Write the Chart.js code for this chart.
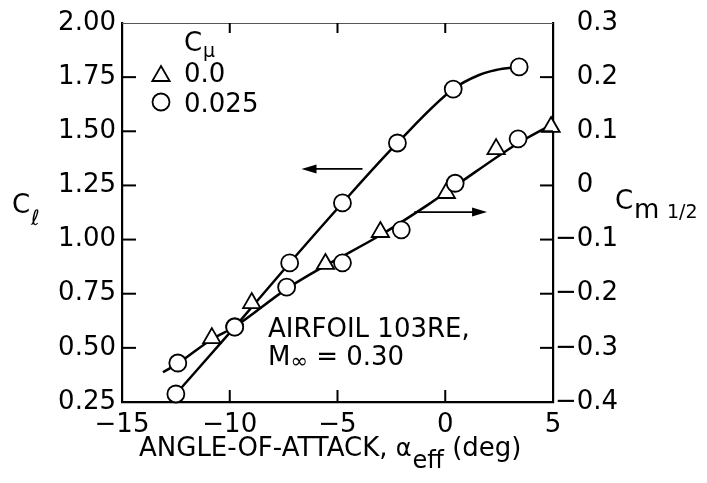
<!DOCTYPE html>
<html>
<head>
<meta charset="utf-8">
<script src="https://cdn.jsdelivr.net/npm/chart.js@4.4.1/dist/chart.umd.min.js"></script>
<style>
html, body { margin: 0; padding: 0; background: #fff; }
#wrap { width: 707px; height: 483px; position: relative; }
</style>
</head>
<body>
<div id="wrap"><canvas id="chart"></canvas></div>
<script>
const FONT = '"DejaVu Sans", "Liberation Sans", sans-serif';

// C_l (left axis)
const clCircAlpha = [-12.5, -9.77, -7.22, -4.77, -2.22, 0.37, 3.43];
const clCircVal = [0.287, 0.596, 0.892, 1.169, 1.446, 1.695, 1.797];
const clTriAlpha = [-8.98];
const clTriVal = [0.707];
const clFairAlpha = [-12.5, -9.77, -7.22, -4.77, -2.22, 0.37, 1.57, 2.36, 3.43];
const clFairVal = [0.287, 0.596, 0.892, 1.169, 1.446, 1.695, 1.76, 1.783, 1.797];

// C_m 1/2 (right axis)
const cmCircAlpha = [-12.41, -9.77, -7.36, -4.77, -2.04, 0.46, 3.38];
const cmCircVal = [-0.328, -0.261, -0.188, -0.143, -0.082, 0.004, 0.086];
const cmTriAlpha = [-10.83, -5.56, -3.01, 0.05, 2.36, 4.91];
const cmTriVal = [-0.282, -0.145, -0.086, -0.014, 0.067, 0.108];
const cmFairAlpha = [-13.1, -12.45, -10.83, -9.77, -7.36, -5.6, -3.06, -0.74, 0.46, 3.38, 4.91];
const cmFairVal = [-0.345, -0.33, -0.284, -0.261, -0.191, -0.149, -0.093, -0.034, -0.001, 0.078, 0.112];

const legendLabels = ['0.0', '0.025'];

const pts = (xs, ys) => xs.map((x, i) => ({ x, y: ys[i] }));

function line(ctx, x1, y1, x2, y2) {
  ctx.beginPath();
  ctx.moveTo(x1, y1);
  ctx.lineTo(x2, y2);
  ctx.stroke();
}

function tri(ctx, cx, cy, r) {
  ctx.beginPath();
  for (let k = 0; k < 3; k++) {
    const a = k * 2 * Math.PI / 3;
    const px = cx + Math.sin(a) * r, py = cy - Math.cos(a) * r;
    k ? ctx.lineTo(px, py) : ctx.moveTo(px, py);
  }
  ctx.closePath();
  ctx.fill();
  ctx.stroke();
}

function arrow(ctx, x1, y, x2) {
  const dir = Math.sign(x2 - x1);
  ctx.lineWidth = 1.8;
  line(ctx, x1, y, x2 - dir * 8, y);
  ctx.beginPath();
  ctx.moveTo(x2, y);
  ctx.lineTo(x2 - dir * 15, y - 4.5);
  ctx.lineTo(x2 - dir * 15, y + 4.5);
  ctx.closePath();
  ctx.fill();
}

const decor = {
  id: 'decor',
  afterDraw(chart) {
    const { ctx, chartArea: a, scales } = chart;
    const { x, y, y2 } = scales;
    ctx.save();
    ctx.strokeStyle = '#000';
    ctx.fillStyle = '#000';

    // faint top frame
    ctx.lineWidth = 1;
    ctx.strokeStyle = '#555';
    line(ctx, a.left, a.top + 0.5, a.right, a.top + 0.5);

    // inward ticks
    ctx.strokeStyle = '#000';
    ctx.lineWidth = 2;
    x.ticks.forEach(t => {
      if (t.value <= x.min || t.value >= x.max) return;
      const px = x.getPixelForValue(t.value);
      line(ctx, px, a.bottom, px, a.bottom - 12);
      line(ctx, px, a.top, px, a.top + 10);
    });
    y.ticks.forEach(t => {
      if (t.value <= y.min || t.value >= y.max) return;
      const py = y.getPixelForValue(t.value);
      line(ctx, a.left, py, a.left + 14, py);
    });
    y2.ticks.forEach(t => {
      if (t.value <= y2.min + 1e-9 || t.value >= y2.max - 1e-9) return;
      const py = y2.getPixelForValue(t.value);
      line(ctx, a.right, py, a.right - 13, py);
    });

    // arrows pointing to the axes
    const ay1 = y.getPixelForValue(1.326);
    arrow(ctx, x.getPixelForValue(-3.84), ay1, x.getPixelForValue(-6.67));
    const ay2 = y.getPixelForValue(1.127);
    arrow(ctx, x.getPixelForValue(-1.44), ay2, x.getPixelForValue(1.94));

    ctx.textBaseline = 'alphabetic';
    ctx.textAlign = 'left';
    const big = '26px ' + FONT, small = '19px ' + FONT;

    // left axis label C_l
    ctx.font = big;
    ctx.fillText('C', 12, 213);
    ctx.font = 'italic 21px ' + FONT;
    ctx.fillText('\u2113', 31, 225);

    // right axis label C_m 1/2
    ctx.font = big;
    ctx.fillText('C', 615, 209);
    ctx.fillText('m', 634, 218);
    ctx.font = small;
    ctx.fillText('1/2', 667, 218);

    // x axis title
    ctx.font = big;
    let cx = 139;
    const t1 = 'ANGLE-OF-ATTACK, ';
    ctx.fillText(t1, cx, 456);
    cx += ctx.measureText(t1).width;
    ctx.font = '24px ' + FONT;
    ctx.fillText('\u03b1', cx, 456);
    cx += ctx.measureText('\u03b1').width + 1;
    ctx.font = '24px ' + FONT;
    ctx.fillText('eff', cx, 468);
    cx += ctx.measureText('eff').width;
    ctx.font = big;
    ctx.fillText(' (deg)', cx, 456);

    // legend
    ctx.font = big;
    ctx.fillText('C', 184, 51);
    ctx.font = small;
    ctx.fillText('\u03bc', 203, 57);
    ctx.lineWidth = 1.8;
    ctx.fillStyle = '#fff';
    tri(ctx, 161, 76, 10);
    ctx.beginPath();
    ctx.arc(161, 102, 8.5, 0, Math.PI * 2);
    ctx.fill();
    ctx.stroke();
    ctx.fillStyle = '#000';
    ctx.font = big;
    ctx.fillText(legendLabels[0], 184, 82);
    ctx.fillText(legendLabels[1], 184, 112);

    // airfoil note
    ctx.fillText('AIRFOIL 103RE,', 268, 337);
    ctx.fillText('M', 268, 365);
    let mx = 268 + ctx.measureText('M').width;
    ctx.font = '21px ' + FONT;
    ctx.fillText('\u221e', mx, 368);
    mx += ctx.measureText('\u221e').width;
    ctx.font = big;
    ctx.fillText(' = 0.30', mx, 365);

    ctx.restore();
  }
};

const marker = (style, r) => ({
  showLine: false,
  pointStyle: style,
  pointRadius: r,
  pointBorderWidth: 1.8,
  pointBorderColor: '#000',
  pointBackgroundColor: '#fff',
  clip: false,
  order: 0
});

const fair = {
  showLine: true,
  borderColor: '#000',
  borderWidth: 2.5,
  pointRadius: 0,
  cubicInterpolationMode: 'monotone',
  fill: false,
  order: 1
};

const tickFont = { family: FONT, size: 26 };

new Chart(document.getElementById('chart'), {
  type: 'scatter',
  data: {
    datasets: [
      { ...fair, data: pts(clFairAlpha, clFairVal), yAxisID: 'y' },
      { ...fair, data: pts(cmFairAlpha, cmFairVal), yAxisID: 'y2' },
      { ...marker('circle', 8.5), data: pts(clCircAlpha, clCircVal), yAxisID: 'y' },
      { ...marker('triangle', 10), data: pts(clTriAlpha, clTriVal), yAxisID: 'y' },
      { ...marker('circle', 8.5), data: pts(cmCircAlpha, cmCircVal), yAxisID: 'y2' },
      { ...marker('triangle', 10), data: pts(cmTriAlpha, cmTriVal), yAxisID: 'y2' }
    ]
  },
  options: {
    responsive: true,
    maintainAspectRatio: false,
    animation: false,
    layout: { padding: { top: 23, left: 0, right: 0, bottom: 0 } },
    plugins: { legend: { display: false }, tooltip: { enabled: false } },
    scales: {
      x: {
        type: 'linear', min: -15, max: 5,
        grid: { display: false, drawTicks: false },
        border: { display: true, color: '#000', width: 2.2 },
        ticks: {
          stepSize: 5, padding: 8, color: '#000', font: tickFont,
          callback: v => (v < 0 ? '\u2212' : '') + Math.abs(v)
        },
        afterFit: s => { s.height = 81; }
      },
      y: {
        type: 'linear', position: 'left', min: 0.25, max: 2.0,
        grid: { display: false, drawTicks: false },
        border: { display: true, color: '#000', width: 2.2 },
        ticks: {
          stepSize: 0.25, padding: 6, color: '#000', font: tickFont,
          callback: v => v.toFixed(2)
        },
        afterFit: s => { s.width = 122; }
      },
      y2: {
        type: 'linear', position: 'right', min: -0.4, max: 0.3,
        grid: { display: false, drawTicks: false },
        border: { display: true, color: '#000', width: 2.2 },
        ticks: {
          stepSize: 0.1, padding: 2, color: '#000', font: tickFont,
          callback: v => {
            const r = Math.round(v * 10) / 10;
            if (r === 0) return '\u2007\u2009' + '0';
            return (r < 0 ? '\u2212' : '\u2007\u2009') + Math.abs(r).toFixed(1);
          }
        },
        afterFit: s => { s.width = 154; }
      }
    }
  },
  plugins: [decor]
});
</script>
</body>
</html>
